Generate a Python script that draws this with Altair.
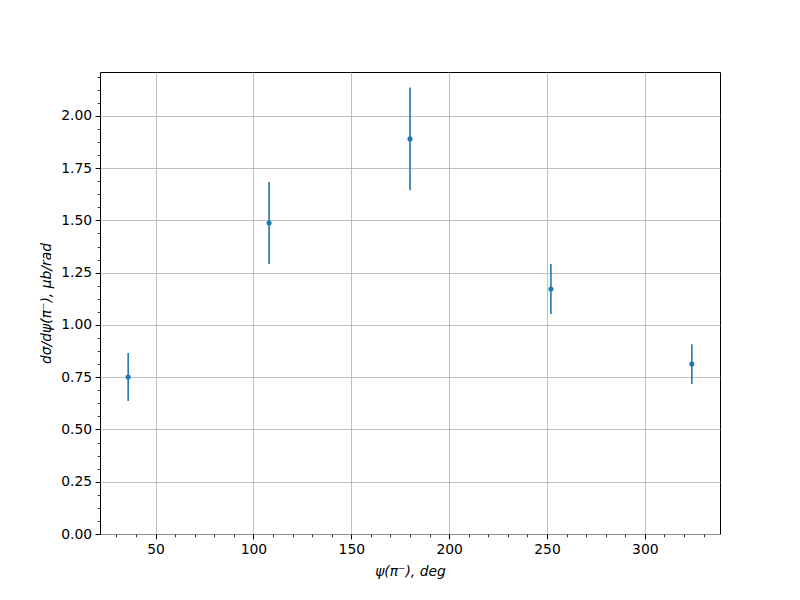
import altair as alt
import pandas as pd

psi = [36, 108, 180, 252, 324]
xsec = [0.751, 1.488, 1.890, 1.172, 0.813]
err = [0.115, 0.196, 0.246, 0.120, 0.095]

x_major = [50, 100, 150, 200, 250, 300]
x_minor = [30, 40, 60, 70, 80, 90, 110, 120, 130, 140, 160, 170, 180, 190,
           210, 220, 230, 240, 260, 270, 280, 290, 310, 320, 330]
y_major = [0.0, 0.25, 0.5, 0.75, 1.0, 1.25, 1.5, 1.75, 2.0]
y_minor = [i * 0.0625 for i in range(36)]

df = pd.DataFrame({"psi": psi, "xsec": xsec, "err": err})
df["lo"] = df["xsec"] - df["err"]
df["hi"] = df["xsec"] + df["err"]

FONT = "DejaVu Sans"
BLUE = "#1f77b4"
xscale = alt.Scale(domain=[21.6, 338.4], nice=False, zero=False)
yscale = alt.Scale(domain=[0, 2.21], nice=False, zero=False)

common = dict(labelFont=FONT, labelFontSize=13.9, labelColor="black",
              tickColor="black", tickWidth=1, domain=False,
              titleFont=FONT, titleFontSize=13.9, titleColor="black",
              titleFontWeight="normal")

x_ax = alt.Axis(values=x_major, format="d", grid=True, gridColor="#b0b0b0",
                gridWidth=0.8, tickSize=4.9, labelPadding=3.5,
                title="ψ(π⁻), deg", titleFontStyle="italic", titlePadding=8,
                orient="bottom", **common)
y_ax = alt.Axis(values=y_major, format=".2f", grid=True, gridColor="#b0b0b0",
                gridWidth=0.8, tickSize=4.9, labelPadding=3.5,
                title="dσ/dψ(π⁻), μb/rad", titleFontStyle="italic", titlePadding=7,
                orient="left", **common)

x_min_ax = alt.Axis(values=x_minor, labels=False, grid=False, tickSize=2.8,
                    tickColor="black", tickWidth=0.8, domain=False, title="",
                    orient="bottom")
y_min_ax = alt.Axis(values=y_minor, labels=False, grid=False, tickSize=2.8,
                    tickColor="black", tickWidth=0.8, domain=False, title="",
                    orient="left")

bars = alt.Chart(df).mark_rule(color=BLUE, strokeWidth=1.6).encode(
    x=alt.X("psi:Q", scale=xscale, axis=x_ax),
    y=alt.Y("lo:Q", scale=yscale, axis=y_ax),
    y2="hi:Q",
)

pts = alt.Chart(df).mark_circle(color=BLUE, size=26, opacity=1).encode(
    x=alt.X("psi:Q", scale=xscale, axis=x_min_ax),
    y=alt.Y("xsec:Q", scale=yscale, axis=y_min_ax),
)

chart = alt.layer(bars, pts).resolve_axis(
    x="independent", y="independent"
).properties(
    width=620, height=462,
    autosize=alt.AutoSizeParams(type="none"),
    padding={"left": 92, "top": 64, "right": 72, "bottom": 58},
).configure_view(stroke="black", strokeWidth=1)

chart.save("out.html", embed_options={"renderer": "svg", "actions": False})
